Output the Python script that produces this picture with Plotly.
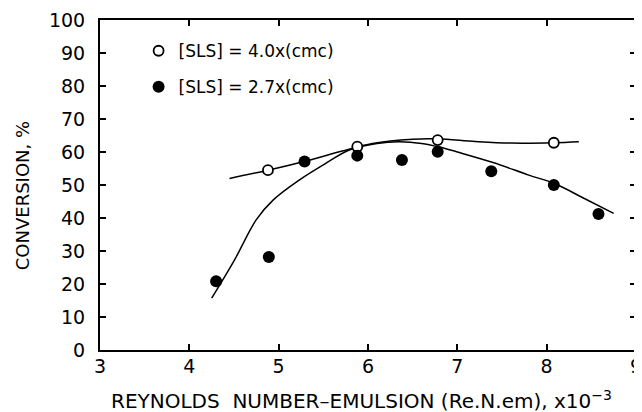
import plotly.graph_objects as go

# Data
open_x = [4.88, 5.88, 6.78, 8.08]
open_y = [54.5, 61.6, 63.6, 62.8]
filled_x = [4.30, 4.89, 5.29, 5.88, 6.38, 6.78, 7.38, 8.08, 8.58]
filled_y = [20.8, 28.2, 57.1, 58.9, 57.6, 60.1, 54.2, 50.0, 41.2]

# Smooth fitted curves
open_curve_x = [4.45, 4.88, 5.3, 5.7, 6.05, 6.5, 6.78, 7.2, 7.6, 8.08, 8.36]
open_curve_y = [52.0, 54.5, 57.2, 60.2, 62.6, 63.9, 64.0, 63.2, 62.7, 62.8, 63.1]
filled_curve_x = [4.25, 4.5, 4.75, 4.94, 5.23, 5.53, 5.79, 6.1, 6.35, 6.6, 6.8,
                  7.0, 7.4, 7.8, 8.1, 8.4, 8.75]
filled_curve_y = [15.7, 27.0, 39.5, 45.5, 51.5, 56.6, 60.6, 62.6, 63.1, 62.6, 61.5,
                  60.0, 56.8, 53.0, 50.3, 46.2, 41.4]

x_ticks = [3, 4, 5, 6, 7, 8, 9]
y_ticks = [0, 10, 20, 30, 40, 50, 60, 70, 80, 90, 100]

x_title = "REYNOLDS  NUMBER\u2013EMULSION (Re.N.em), x10<sup>\u22123</sup>"
y_title = "CONVERSION, %"
legend_open = "[SLS] = 4.0x(cmc)"
legend_filled = "[SLS] = 2.7x(cmc)"

FONT = "DejaVu Sans"

fig = go.Figure()
fig.add_trace(go.Scatter(x=open_curve_x, y=open_curve_y, mode="lines",
                         line=dict(color="black", width=1.5, shape="spline", smoothing=1.0),
                         showlegend=False, hoverinfo="skip"))
fig.add_trace(go.Scatter(x=filled_curve_x, y=filled_curve_y, mode="lines",
                         line=dict(color="black", width=1.5, shape="spline", smoothing=1.0),
                         showlegend=False, hoverinfo="skip"))
fig.add_trace(go.Scatter(x=open_x, y=open_y, mode="markers", name=legend_open,
                         legendgroup="a",
                         marker=dict(symbol="circle", size=10, color="white",
                                     line=dict(color="black", width=1.8))))
fig.add_trace(go.Scatter(x=filled_x, y=filled_y, mode="markers", name=legend_filled,
                         legendgroup="b",
                         marker=dict(symbol="circle", size=12, color="black",
                                     line=dict(color="black", width=0))))

axis_common = dict(showline=True, linecolor="black", linewidth=2, mirror="ticks",
                   ticks="inside", ticklen=6, tickwidth=1.5, tickcolor="black",
                   showgrid=False, zeroline=False, automargin=False,
                   ticklabeloverflow="allow",
                   tickfont=dict(family=FONT, size=19, color="black"))

# The page body has an 8px default margin, so the figure is 8px smaller than the window
fig.update_layout(
    width=634, height=404,
    margin=dict(l=92, r=6, t=12, b=62),
    paper_bgcolor="white", plot_bgcolor="white",
    font=dict(family=FONT, color="black"),
    xaxis=dict(range=[3, 9], tickvals=x_ticks, ticktext=[str(v) for v in x_ticks],
               ticklabelstandoff=-2, **axis_common),
    yaxis=dict(range=[0, 100], tickvals=y_ticks, ticktext=[str(v) for v in y_ticks],
               ticklabelstandoff=9, **axis_common),
    legend=dict(x=0.072, y=0.96, xanchor="left", yanchor="top",
                bgcolor="rgba(0,0,0,0)", borderwidth=0,
                font=dict(family=FONT, size=17, color="black"),
                tracegroupgap=11, itemwidth=30),
    showlegend=True,
    annotations=[
        dict(text=x_title, xref="paper", yref="paper", x=0.487, y=-0.152,
             xanchor="center", yanchor="middle", showarrow=False,
             font=dict(family=FONT, size=20, color="black")),
        dict(text=y_title, xref="paper", yref="paper", x=-0.143, y=0.467,
             xanchor="center", yanchor="middle", textangle=-90, showarrow=False,
             font=dict(family=FONT, size=18, color="black")),
    ],
)

fig.write_html("out.html")
